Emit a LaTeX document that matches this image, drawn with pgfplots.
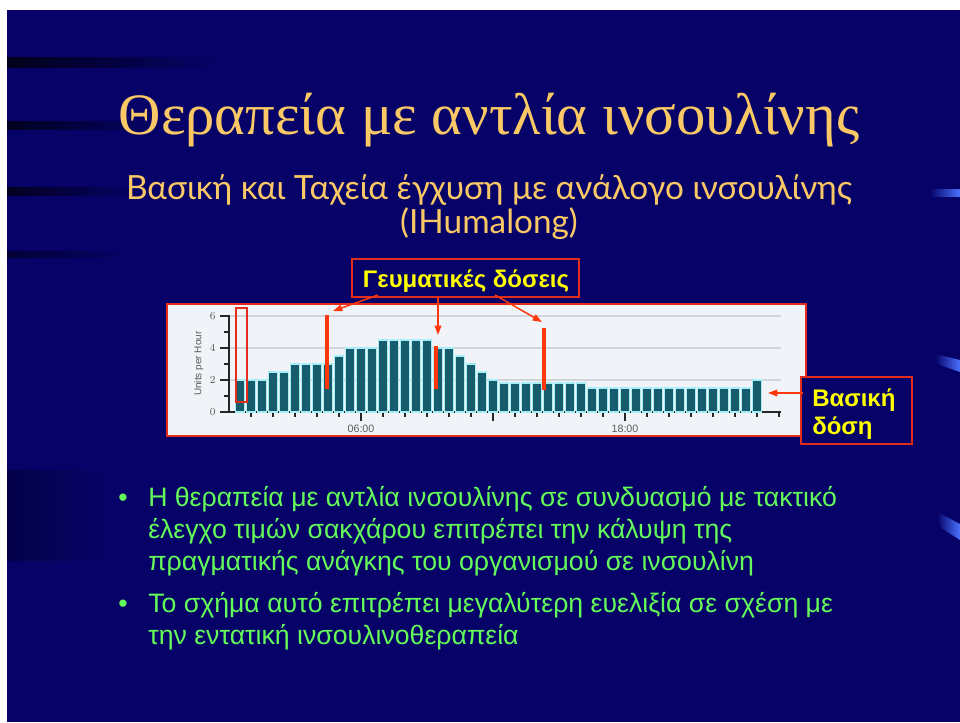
\documentclass[border=0pt]{standalone}
\usepackage{fontspec}
\setmainfont{Liberation Sans}
\newfontfamily\titlefont{Liberation Serif}
\newfontfamily\subfont{Lato}
\usepackage{pgfplots}
\pgfplotsset{compat=1.18}
\usetikzlibrary{arrows.meta}
\definecolor{navy}{RGB}{6,2,104}
\definecolor{gold}{RGB}{250,200,100}
\definecolor{bulgreen}{RGB}{100,250,90}
\definecolor{ann}{RGB}{255,55,10}
\definecolor{boxred}{RGB}{225,45,25}
\definecolor{ylw}{RGB}{255,255,0}
\definecolor{barteal}{RGB}{22,92,108}
\definecolor{barcyan}{RGB}{165,238,245}
\definecolor{panel}{RGB}{240,243,247}
\definecolor{gridc}{RGB}{210,214,218}
\definecolor{lblue}{RGB}{75,115,255}
\definecolor{tickgray}{RGB}{90,90,90}

\pgfplotstableread{
x y
0.5 2.0
1.0 2.0
1.5 2.0
2.0 2.5
2.5 2.5
3.0 3.0
3.5 3.0
4.0 3.0
4.5 3.0
5.0 3.5
5.5 4.0
6.0 4.0
6.5 4.0
7.0 4.5
7.5 4.5
8.0 4.5
8.5 4.5
9.0 4.5
9.5 4.0
10.0 4.0
10.5 3.5
11.0 3.0
11.5 2.5
12.0 2.0
12.5 1.8
13.0 1.8
13.5 1.8
14.0 1.8
14.5 1.8
15.0 1.8
15.5 1.8
16.0 1.8
16.5 1.5
17.0 1.5
17.5 1.5
18.0 1.5
18.5 1.5
19.0 1.5
19.5 1.5
20.0 1.5
20.5 1.5
21.0 1.5
21.5 1.5
22.0 1.5
22.5 1.5
23.0 1.5
23.5 1.5
24.0 2.0
}\basal

\begin{document}
\begin{tikzpicture}
\begin{scope}[x=0.75pt,y=-0.75pt]
\fill[white] (0,0) rectangle (960,722);
\fill[navy] (7,10) rectangle (960,722);
% dark streaks on the left
\shade[left color=black!75!navy, right color=navy] (7,57) rectangle (220,67);
\shade[left color=black!70!navy, right color=navy] (7,121) rectangle (160,129);
\shade[left color=black!70!navy, right color=navy] (7,187) rectangle (140,195);
\shade[left color=black!50!navy, right color=navy] (7,251) rectangle (130,257);
\shade[left color=black!30!navy, right color=navy] (7,470) rectangle (110,560);
% light streaks on the right
\shade[left color=navy, right color=lblue] (930,189) rectangle (960,196);
\shade[left color=navy, right color=lblue] (935,354) -- (960,360) -- (960,372) -- (937,364) -- cycle;
\shade[left color=navy, right color=lblue] (937,512) -- (960,524) -- (960,540) -- (941,528) -- cycle;
% titles
\node[anchor=base, text=gold, inner sep=0pt, font=\titlefont\fontsize{44}{52}\selectfont] at (489,134) {Θεραπεία με αντλία ινσουλίνης};
\node[anchor=base, text=gold, inner sep=0pt, font=\subfont\fontsize{25}{30}\selectfont] at (489,199) {Βασική και Ταχεία έγχυση με ανάλογο ινσουλίνης};
\node[anchor=base, text=gold, inner sep=0pt, font=\subfont\fontsize{25}{30}\selectfont] at (489,233) {(IHumalong)};
% panel
\filldraw[fill=panel, draw=boxred, line width=0.8pt] (167,304) rectangle (806,436);
\coordinate (axorig) at (229,412);
\end{scope}

\begin{axis}[
  at={(axorig)}, anchor=south west, scale only axis,
  width=414.15pt, height=72.6pt,
  xmin=0, xmax=25.1, ymin=0, ymax=6.05, clip=false,
  axis x line*=bottom, axis y line*=left,
  axis line style={black!85, line width=1.3pt},
  xtick={6,12,18}, xticklabels={06:00,,18:00},
  minor xtick={1,2,3,4,5,7,8,9,10,11,13,14,15,16,17,19,20,21,22,23,24,25},
  ytick={0,2,4,6}, minor ytick={1,3,5},
  tick align=outside,
  major tick length=6.5pt, minor tick length=3.5pt,
  every tick/.style={black!85, line width=1pt},
  ymajorgrids, major grid style={gridc, line width=1.4pt},
  tick label style={text=tickgray, font=\fontsize{8}{9}\selectfont},
  ylabel={Units per Hour},
  ylabel style={text=tickgray, font=\fontsize{7.5}{8}\selectfont, yshift=-2pt},
]
\addplot[ybar, bar width=0.43, fill=barteal, draw=barcyan, line width=1.1pt] table[x=x, y=y] {\basal};
\addplot[ann, line width=3pt] coordinates {(4.45,1.45) (4.45,6.06)};
\addplot[ann, line width=3pt] coordinates {(9.4,1.45) (9.4,4.1)};
\addplot[ann, line width=3pt] coordinates {(14.3,1.4) (14.3,5.25)};
\end{axis}

\begin{scope}[x=0.75pt,y=-0.75pt]
% bracket around first bar
\draw[boxred, line width=0.8pt] (236,308) rectangle (247,402);
% meal bolus label
\filldraw[fill=navy, draw=boxred, line width=0.9pt] (352,259) rectangle (579,297);
\node[anchor=base, text=ylw, inner sep=0pt, font=\bfseries\fontsize{18}{22}\selectfont] at (466,287) {Γευματικές δόσεις};
\draw[ann, line width=1.1pt, -{Triangle[length=7pt,width=5pt]}] (378,295) -- (333,311);
\draw[ann, line width=1.1pt, -{Triangle[length=7pt,width=5pt]}] (438,297) -- (438,335);
\draw[ann, line width=1.1pt, -{Triangle[length=7pt,width=5pt]}] (495,295) -- (542,322);
% basal label
\filldraw[fill=navy, draw=boxred, line width=0.9pt] (801,377) rectangle (912,444);
\node[anchor=base west, text=ylw, inner sep=0pt, font=\bfseries\fontsize{18}{22}\selectfont] at (812,406) {Βασική};
\node[anchor=base west, text=ylw, inner sep=0pt, font=\bfseries\fontsize{18}{22}\selectfont] at (812,434) {δόση};
\draw[ann, line width=1.1pt, -{Triangle[length=7pt,width=5pt]}] (803,393) -- (768,393);
% bullets
\begin{scope}[every node/.style={anchor=base west, text=bulgreen, inner sep=0pt, font=\fontsize{20}{26}\selectfont}]
\node at (118,506) {•};
\node at (148,506) {Η θεραπεία με αντλία ινσουλίνης σε συνδυασμό με τακτικό};
\node at (148,538) {έλεγχο τιμών σακχάρου επιτρέπει την κάλυψη της};
\node at (148,570) {πραγματικής ανάγκης του οργανισμού σε ινσουλίνη};
\node at (118,612) {•};
\node at (148,612) {Το σχήμα αυτό επιτρέπει μεγαλύτερη ευελιξία σε σχέση με};
\node at (148,644) {την εντατική ινσουλινοθεραπεία};
\end{scope}
\end{scope}
\end{tikzpicture}
\end{document}
